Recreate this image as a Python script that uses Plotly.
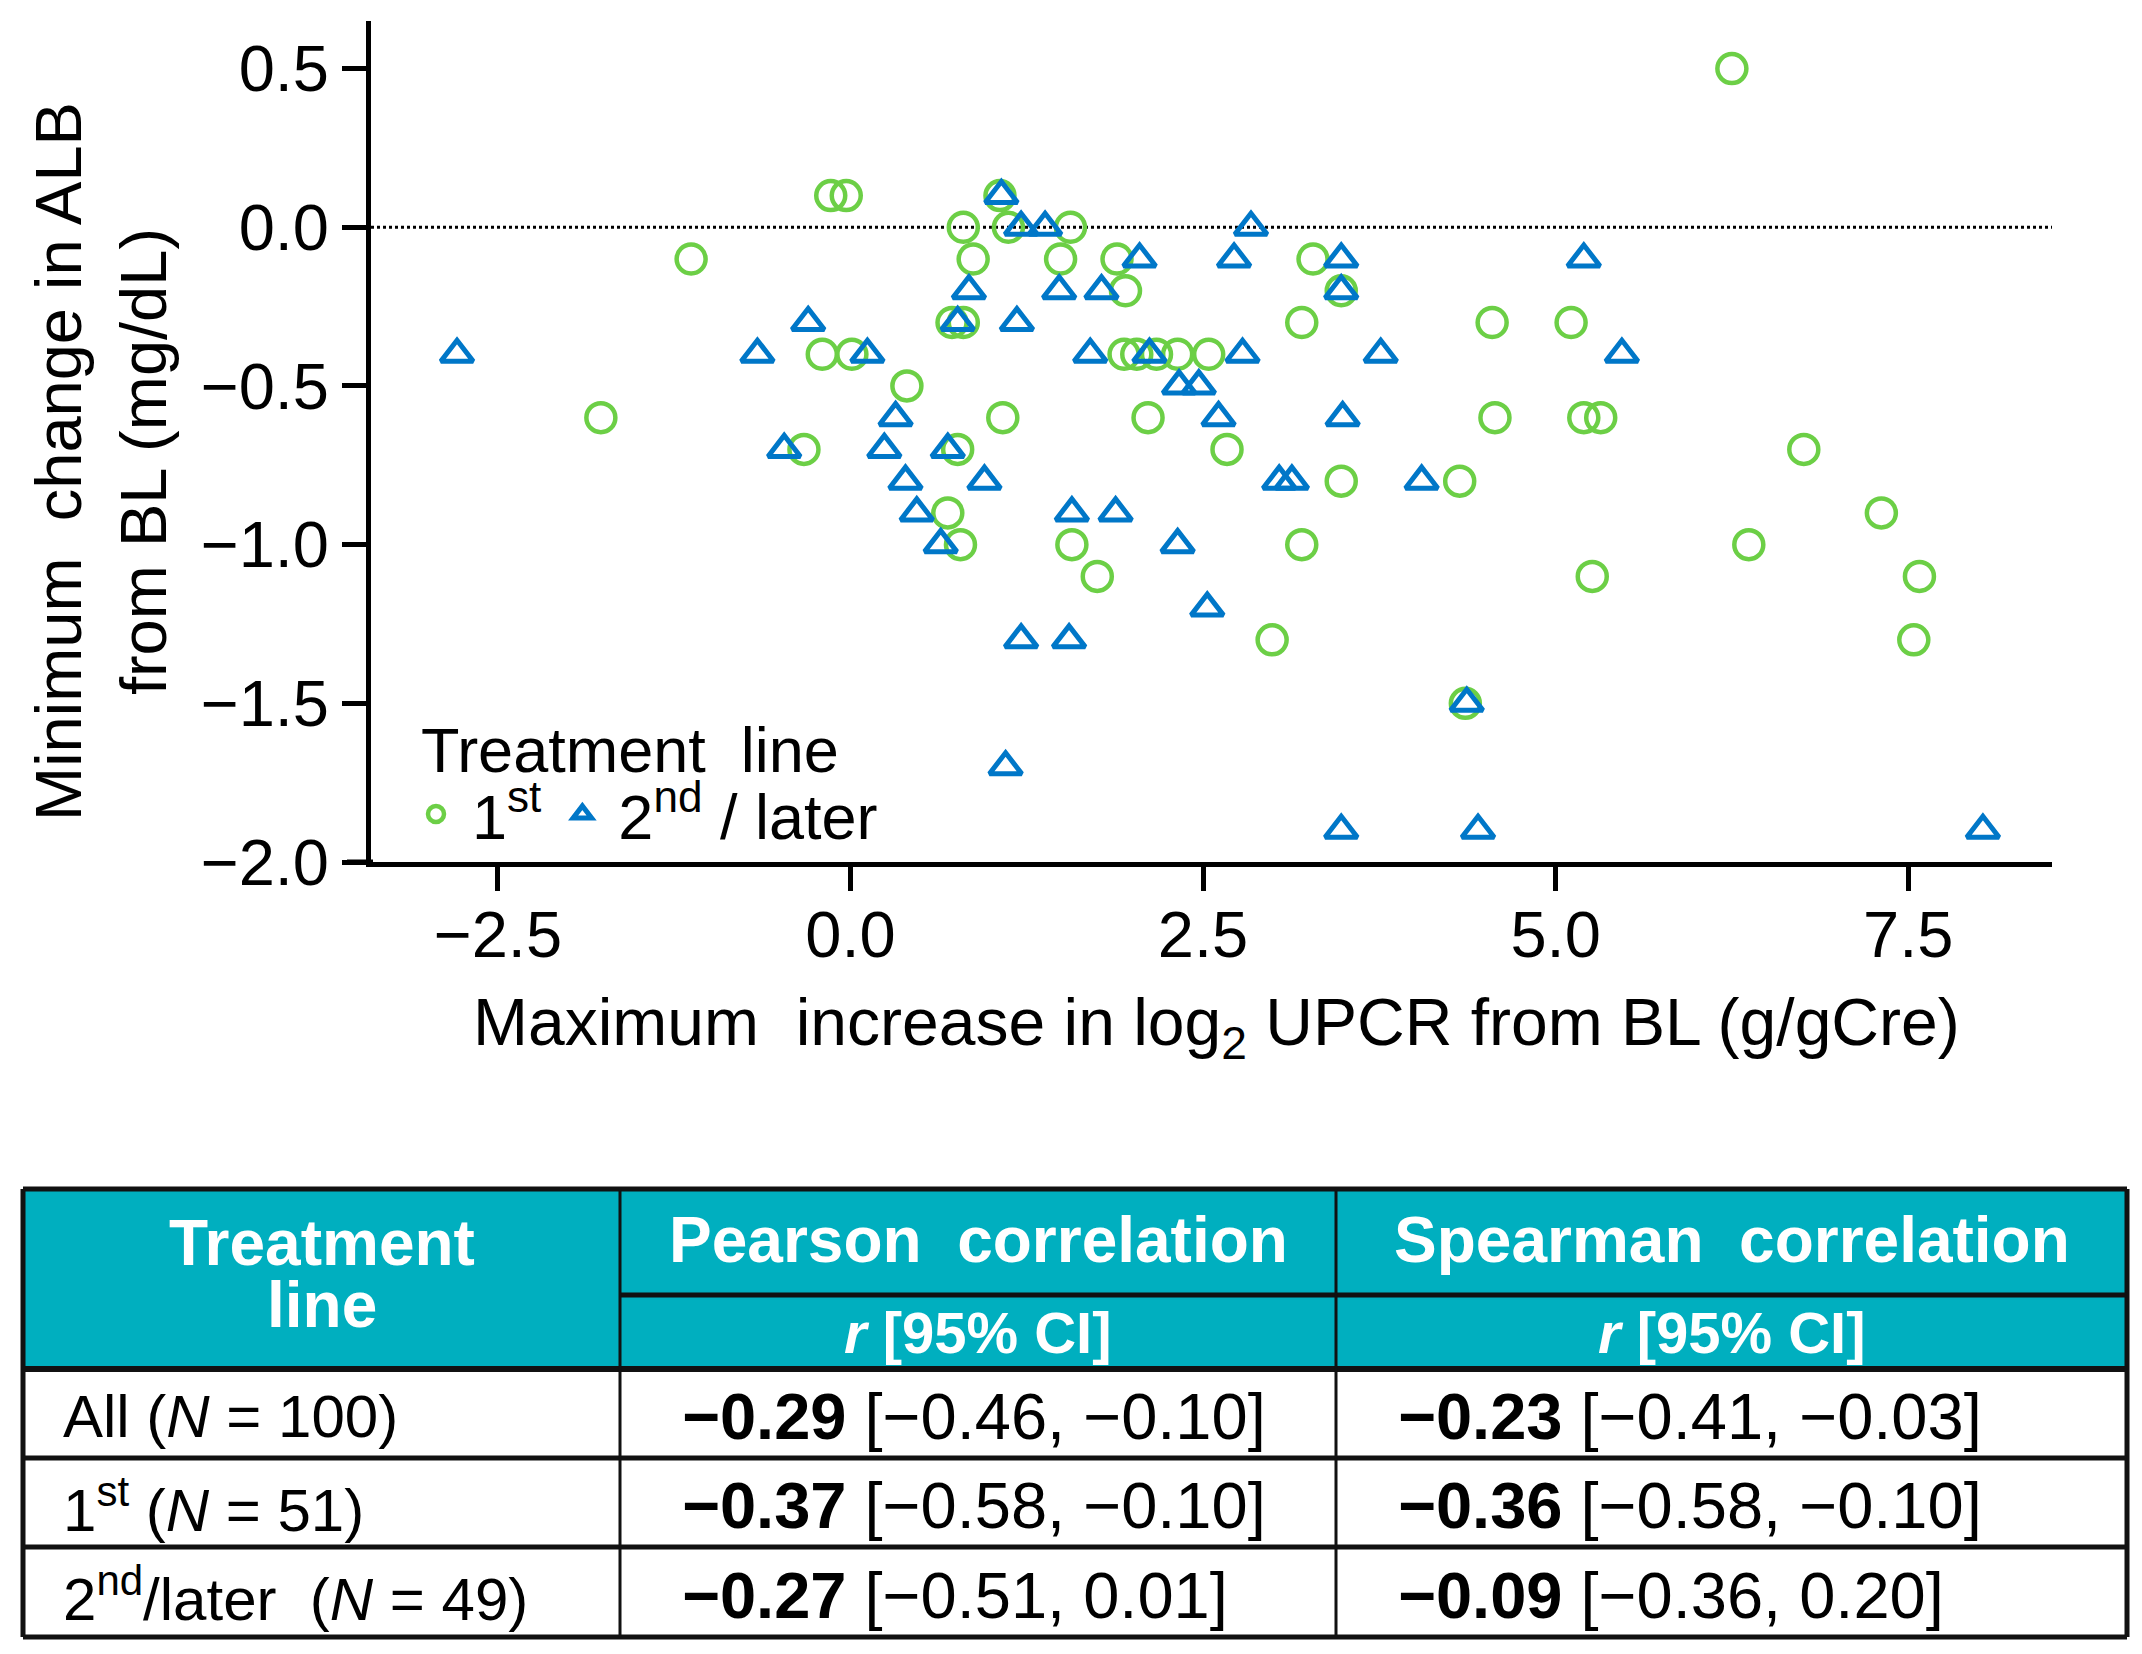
import plotly.graph_objects as go

# ---------------- data ----------------
first_x = [6.25, -0.14, -0.03, 1.06, 0.80, 1.12, 1.56, -1.13, 0.87, 1.49, 1.89, 3.28,
           1.95, 3.48, 0.72, 0.80, 3.20, 4.55, 5.11, -0.20, 0.01, 1.94, 2.03, 2.17,
           2.32, 2.54, 0.40, -1.77, 1.08, 2.11, 4.57, 5.20, 5.32, -0.33, 0.76, 2.67,
           6.76, 3.48, 4.32, 0.69, 7.31, 0.78, 1.57, 3.20, 6.37, 1.75, 5.26, 7.58,
           2.99, 7.54, 4.36]
first_y = [0.5, 0.1, 0.1, 0.1, 0.0, 0.0, 0.0, -0.1, -0.1, -0.1, -0.1, -0.1,
           -0.2, -0.2, -0.3, -0.3, -0.3, -0.3, -0.3, -0.4, -0.4, -0.4, -0.4, -0.4,
           -0.4, -0.4, -0.5, -0.6, -0.6, -0.6, -0.6, -0.6, -0.6, -0.7, -0.7, -0.7,
           -0.7, -0.8, -0.8, -0.9, -0.9, -1.0, -1.0, -1.0, -1.0, -1.1, -1.1, -1.1,
           -1.3, -1.3, -1.5]

later_x = [1.07, 1.21, 1.38, 2.84, 2.05, 2.72, 3.48, 5.20, 0.84, 1.48, 1.78, 3.48,
           -0.30, 0.76, 1.18, -2.79, -0.66, 0.12, 1.70, 2.12, 2.78, 3.76, 5.47,
           2.33, 2.47, 0.32, 2.61, 3.49, -0.47, 0.24, 0.69, 0.39, 0.95, 3.04, 3.13,
           4.05, 0.47, 1.57, 1.88, 0.64, 2.32, 2.53, 1.21, 1.55, 4.37, 1.10, 3.48,
           4.45, 8.03]
later_y = [0.1, 0.0, 0.0, 0.0, -0.1, -0.1, -0.1, -0.1, -0.2, -0.2, -0.2, -0.2,
           -0.3, -0.3, -0.3, -0.4, -0.4, -0.4, -0.4, -0.4, -0.4, -0.4, -0.4,
           -0.5, -0.5, -0.6, -0.6, -0.6, -0.7, -0.7, -0.7, -0.8, -0.8, -0.8, -0.8,
           -0.8, -0.9, -0.9, -0.9, -1.0, -1.0, -1.2, -1.3, -1.3, -1.5, -1.7, -1.9,
           -1.9, -1.9]

series_names = ["1<sup>st</sup>", "2<sup>nd</sup> / later"]
legend_title = "Treatment  line"

x_ticks = [-2.5, 0.0, 2.5, 5.0, 7.5]
y_ticks = [0.5, 0.0, -0.5, -1.0, -1.5, -2.0]

# table values
row_labels = ["All", "1<sup>st</sup>", "2<sup>nd</sup>/later "]
row_n = [100, 51, 49]
pearson_r = [-0.29, -0.37, -0.27]
pearson_lo = [-0.46, -0.58, -0.51]
pearson_hi = [-0.10, -0.10, 0.01]
spearman_r = [-0.23, -0.36, -0.09]
spearman_lo = [-0.41, -0.58, -0.36]
spearman_hi = [-0.03, -0.10, 0.20]
col_headers = ["Treatment<br>line", "Pearson  correlation", "Spearman  correlation"]
sub_header = "<i>r</i> [95% CI]"

# ---------------- style ----------------
FONT = "Liberation Sans, Arial, sans-serif"
GREEN = "#6CCF46"
BLUE = "#0077C8"
TEAL = "#00AFBF"
OFF = 8                      # default page margin of the html body
W, H = 2142 - 2 * OFF, 1654 - 2 * OFF


def px(p):
    return (p - OFF) / W


def py(p):
    return 1 - (p - OFF) / H


fig = go.Figure()
fig.add_trace(go.Scatter(
    x=first_x, y=first_y, mode="markers", name=series_names[0],
    marker=dict(symbol="circle-open", size=29, color=GREEN, line=dict(width=4.5, color=GREEN)),
))
fig.add_trace(go.Scatter(
    x=later_x, y=later_y, mode="markers", name=series_names[1],
    marker=dict(symbol="triangle-up-open", size=28, color=BLUE, line=dict(width=5, color=BLUE)),
))

axis_common = dict(
    showline=True, linecolor="black", linewidth=5,
    ticks="outside", ticklen=24, tickwidth=5, tickcolor="black",
    showgrid=False, zeroline=False, automargin=False,
    tickfont=dict(family=FONT, size=65, color="black"),
)

fig.update_layout(
    width=W, height=H, autosize=False,
    margin=dict(l=0, r=0, t=0, b=0),
    paper_bgcolor="white", plot_bgcolor="white",
    font=dict(family=FONT, color="black"),
    xaxis=dict(domain=[px(371), px(2052)], range=[-3.4, 8.52],
               tickvals=x_ticks, tickformat=".1f", ticklabelstandoff=-12, **axis_common),
    yaxis=dict(domain=[py(862), py(21)], range=[-2.0, 0.65],
               tickvals=y_ticks, tickformat=".1f", **axis_common),
    showlegend=True,
    legend=dict(
        orientation="h", x=px(400), y=py(814), xanchor="left", yanchor="middle",
        font=dict(family=FONT, size=63, color="black"),
        bgcolor="rgba(0,0,0,0)", itemsizing="trace", tracegroupgap=0,
        itemwidth=62,
    ),
)

# x-axis line extends slightly left of the y-axis
fig.add_shape(type="line", xref="paper", yref="y", x0=px(347), x1=px(373), y0=-2.0, y1=-2.0,
              line=dict(color="black", width=5))

# dotted reference line at y = 0
fig.add_shape(type="line", xref="x domain", yref="y", x0=0, x1=1, y0=0, y1=0,
              line=dict(color="black", width=3, dash="dot"), layer="below")

# legend title
fig.add_annotation(text=legend_title, xref="paper", yref="paper", x=px(419), y=py(750),
                   xanchor="left", yanchor="middle", showarrow=False,
                   font=dict(family=FONT, size=63, color="black"))

# axis titles
fig.add_annotation(
    text="Minimum  change in ALB<br>from BL (mg/dL)", textangle=-90,
    xref="paper", yref="paper", x=px(101), y=py(462), xanchor="center", yanchor="middle",
    showarrow=False, font=dict(family=FONT, size=65, color="black"),
)
fig.add_annotation(
    text="Maximum  increase in log<sub>2</sub> UPCR from BL (g/gCre)",
    xref="paper", yref="paper", x=px(1216), y=py(1027), xanchor="center", yanchor="middle",
    showarrow=False, font=dict(family=FONT, size=66, color="black"),
)

# ---------------- table ----------------
tx = [23, 620, 1336, 2127]                 # column edges (px)
ty = [1189, 1295, 1369, 1458, 1547, 1637]  # row edges (px)

fig.add_shape(type="rect", xref="paper", yref="paper",
              x0=px(tx[0]), x1=px(tx[3]), y0=py(ty[2]), y1=py(ty[0]),
              fillcolor=TEAL, line=dict(width=0), layer="above")

lines = [
    (tx[0], ty[0], tx[3], ty[0], 5),
    (tx[0], ty[5], tx[3], ty[5], 5),
    (tx[0], ty[0], tx[0], ty[5], 5),
    (tx[3], ty[0], tx[3], ty[5], 5),
    (tx[1], ty[1], tx[3], ty[1], 5),
    (tx[0], ty[2], tx[3], ty[2], 6),
    (tx[0], ty[3], tx[3], ty[3], 5),
    (tx[0], ty[4], tx[3], ty[4], 5),
    (tx[1], ty[0], tx[1], ty[5], 3),
    (tx[2], ty[0], tx[2], ty[5], 3),
]
for x0, y0, x1, y1, w in lines:
    fig.add_shape(type="line", xref="paper", yref="paper",
                  x0=px(x0), y0=py(y0), x1=px(x1), y1=py(y1),
                  line=dict(color="#111111", width=w), layer="above")

HFONT = dict(family=FONT, size=64, color="white")
SFONT = dict(family=FONT, size=58, color="white")
LFONT = dict(family=FONT, size=60, color="black")
NFONT = dict(family=FONT, size=65, color="black")


def cell(text, x, y, font, anchor="center"):
    fig.add_annotation(text=text, xref="paper", yref="paper", x=px(x), y=py(y),
                       xanchor=anchor, yanchor="middle", showarrow=False, font=font)


# first header cell: two lines set a little tighter than the default line height
for k, part in enumerate(col_headers[0].split("<br>")):
    cell("<b>" + part + "</b>", (tx[0] + tx[1]) / 2, 1243 + k * 62, HFONT)
for i in (1, 2):
    cell("<b>" + col_headers[i] + "</b>", (tx[i] + tx[i + 1]) / 2, (ty[0] + ty[1]) / 2 - 2, HFONT)
    cell("<b>" + sub_header + "</b>", (tx[i] + tx[i + 1]) / 2, (ty[1] + ty[2]) / 2, SFONT)


def fmt(v):
    return f"{v:.2f}".replace("-", "\u2212")


for r in range(3):
    yc = (ty[2 + r] + ty[3 + r]) / 2 + 3
    cell(f"{row_labels[r]} (<i>N</i> = {row_n[r]})", tx[0] + 38, yc, LFONT, "left")
    cell(f"<b>{fmt(pearson_r[r])}</b> [{fmt(pearson_lo[r])}, {fmt(pearson_hi[r])}]",
         tx[1] + 60, yc, NFONT, "left")
    cell(f"<b>{fmt(spearman_r[r])}</b> [{fmt(spearman_lo[r])}, {fmt(spearman_hi[r])}]",
         tx[2] + 60, yc, NFONT, "left")

fig.write_html("out.html")
